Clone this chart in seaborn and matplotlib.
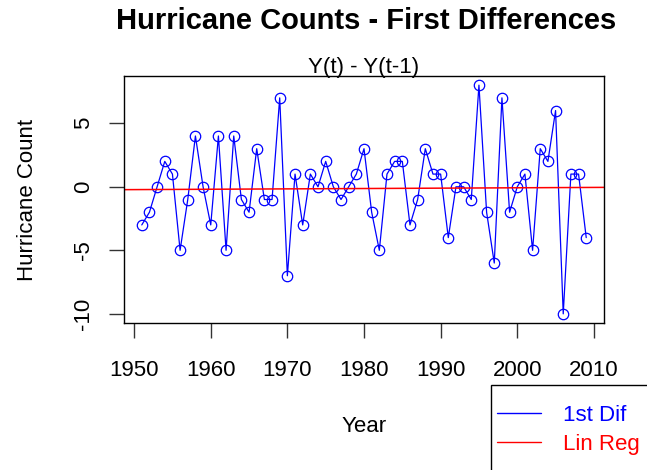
import numpy as np
import pandas as pd
import matplotlib
matplotlib.use("Agg")
import matplotlib.pyplot as plt
import seaborn as sns
from matplotlib.lines import Line2D
from matplotlib.patches import Rectangle

years = list(range(1951, 2010))
first_diff = [-3, -2, 0, 2, 1, -5, -1, 4, 0, -3,
              4, -5, 4, -1, -2, 3, -1, -1, 7, -7,
              1, -3, 1, 0, 2, 0, -1, 0, 1, 3,
              -2, -5, 1, 2, 2, -3, -1, 3, 1, 1,
              -4, 0, 0, -1, 8, -2, -6, 7, -2, 0,
              1, -5, 3, 2, 6, -10, 1, 1, -4]
x_ticks = [1950, 1960, 1970, 1980, 1990, 2000, 2010]
y_ticks = [-10, -5, 0, 5]

df = pd.DataFrame({"Year": years, "Diff": first_diff})

sns.set_theme(style="white", rc={"text.color": "black", "axes.labelcolor": "black",
                                 "xtick.color": "black", "ytick.color": "black"})
plt.rcParams['font.family'] = ['Liberation Sans', 'DejaVu Sans']

W, H = 647, 470
fig = plt.figure(figsize=(W / 100, H / 100), dpi=100)
ax = fig.add_axes([124 / W, 1 - 323 / H, 480 / W, 247 / H])

sns.lineplot(data=df, x="Year", y="Diff", ax=ax, color="blue", linewidth=0.9,
             marker="o", markersize=7.5, markerfacecolor="none",
             markeredgecolor="blue", markeredgewidth=0.9)

# linear regression of the differences on year
slope, intercept = np.polyfit(df["Year"], df["Diff"], 1)
ax.axline((2000, intercept + slope * 2000), slope=slope, color="red", linewidth=1.1)

ax.set_xlim(1948.68, 2011.32)
ax.set_ylim(-10.72, 8.72)
ax.set_xticks(x_ticks)
ax.set_yticks(y_ticks)
ax.set_yticklabels([str(v) for v in y_ticks], rotation=90, va="center")
ax.tick_params(axis="both", direction="out", length=10.5, width=1, color="#333333",
               labelsize=16, labelcolor="black", bottom=True, left=True)
ax.tick_params(axis="x", pad=16)
ax.tick_params(axis="y", pad=11)
for s in ax.spines.values():
    s.set_color("black")
    s.set_linewidth(1)

ax.set_xlabel("Year", fontsize=16, labelpad=25)
ax.set_ylabel("Hurricane Count", fontsize=16, labelpad=25)
ax.set_title("Y(t) - Y(t-1)", fontsize=16, pad=2)
fig.text(366 / W, 1 - 21 / H, "Hurricane Counts - First Differences",
         ha="center", va="center", fontsize=21, fontweight="bold")

# legend box, partly outside the figure like the reference
fig.patches.append(Rectangle((491 / W, -0.1), 0.5, (1 - 385 / H) + 0.1,
                             transform=fig.transFigure, fill=False,
                             edgecolor="black", linewidth=1))
handles = [Line2D([], [], color="blue", linewidth=1),
           Line2D([], [], color="red", linewidth=1)]
leg = fig.legend(handles, ["1st Dif", "Lin Reg"], loc="upper left",
                 bbox_to_anchor=(497 / W, 1 - 405 / H), fontsize=16,
                 frameon=False, borderpad=0, handlelength=2.0,
                 handletextpad=0.95, labelspacing=0.35, borderaxespad=0)
for t, c in zip(leg.get_texts(), ["blue", "red"]):
    t.set_color(c)

fig.savefig("out.png", dpi=100)
